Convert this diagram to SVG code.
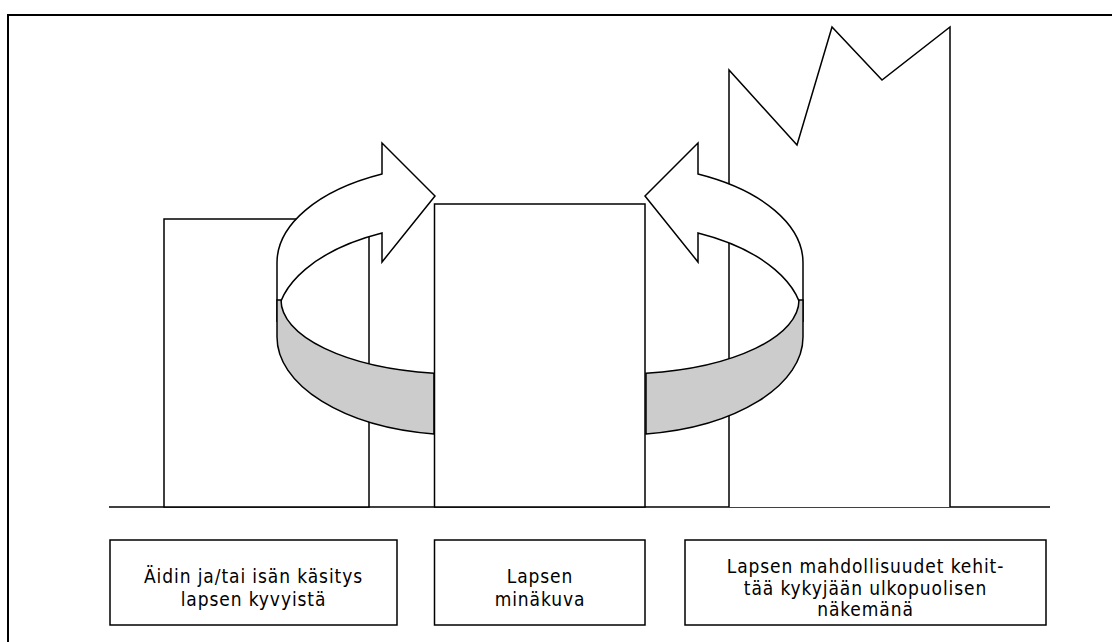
<svg xmlns="http://www.w3.org/2000/svg" width="1112" height="642" viewBox="0 0 1112 642">
<style>
.s{stroke:#000;stroke-width:1.5;fill:#fff;stroke-linejoin:miter}
.g{stroke:#000;stroke-width:1.5;fill:#cccccc}
.t{font-family:"DejaVu Sans Condensed","DejaVu Sans",sans-serif;font-size:19px;letter-spacing:0.9px;fill:#000;text-anchor:middle}
</style>
<defs>
<g id="ring">
<path class="s" d="M382,174 A183,98 0 0 0 277,263 L277,322 A183,98 0 0 1 382,233 L382,262 L435,196 L382,143 Z"/>
<path class="g" d="M277,300 L281,300 A179,74 0 0 0 434,373.2 L434,434 A183,98 0 0 1 277,337 Z"/>
</g>
</defs>
<rect width="1112" height="642" fill="#fff"/>
<g id="frame"><path d="M8,642 V15 H1112" fill="none" stroke="#000" stroke-width="2"/></g>
<g id="ground"><line x1="109" y1="507" x2="1050" y2="507" stroke="#000" stroke-width="1.5"/></g>
<g id="left-bar"><rect class="s" x="164" y="219" width="205" height="288"/></g>
<g id="right-bar"><path class="s" d="M729,507 V70 L797,145 L832,27 L882,80 L950,27 V507"/></g>
<g id="left-ring"><use href="#ring"/></g>
<g id="right-ring" transform="matrix(-1 0 0 1 1080 0)"><use href="#ring"/></g>
<g id="middle-bar"><rect class="s" x="434.5" y="204" width="210.5" height="303"/></g>
<g id="label-1"><rect class="s" x="110" y="540" width="287" height="85"/>
<text class="t" x="253.5" y="583">Äidin ja/tai isän käsitys</text>
<text class="t" x="253.5" y="606">lapsen kyvyistä</text></g>
<g id="label-2"><rect class="s" x="434.5" y="540" width="210.5" height="85"/>
<text class="t" x="540" y="583">Lapsen</text>
<text class="t" x="540" y="606">minäkuva</text></g>
<g id="label-3"><rect class="s" x="685" y="540" width="361" height="85"/>
<text class="t" x="865.5" y="573">Lapsen mahdollisuudet kehit-</text>
<text class="t" x="865.5" y="595">tää kykyjään ulkopuolisen</text>
<text class="t" x="865.5" y="616">näkemänä</text></g>
</svg>
